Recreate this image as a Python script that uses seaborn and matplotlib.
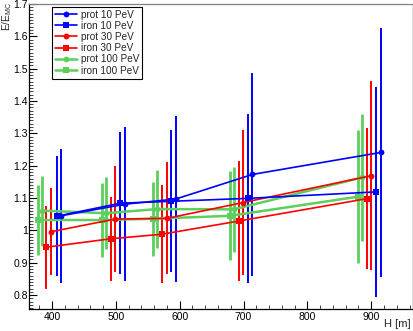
import numpy as np
import pandas as pd
import matplotlib
matplotlib.use("Agg")
import matplotlib.pyplot as plt
from matplotlib.ticker import MultipleLocator, FuncFormatter
import seaborn as sns

sns.set_theme(style="white")
plt.rcParams['font.family'] = ['Liberation Sans', 'DejaVu Sans']
plt.rcParams['mathtext.fontset'] = 'custom'
plt.rcParams['mathtext.rm'] = 'Liberation Sans'
plt.rcParams['mathtext.it'] = 'Liberation Sans'

series_names = ["prot 10 PeV", "iron 10 PeV", "prot 30 PeV", "iron 30 PeV", "prot 100 PeV", "iron 100 PeV"]

prot10_x = [414, 514, 594, 714, 915]
prot10_y = [1.045, 1.081, 1.097, 1.173, 1.241]
prot10_e = [0.207, 0.238, 0.256, 0.315, 0.385]

iron10_x = [408, 507, 587, 707, 908]
iron10_y = [1.044, 1.084, 1.090, 1.099, 1.119]
iron10_e = [0.186, 0.220, 0.219, 0.262, 0.325]

prot30_x = [399, 499, 580, 699, 900]
prot30_y = [0.996, 1.035, 1.037, 1.086, 1.169]
prot30_e = [0.135, 0.163, 0.173, 0.224, 0.292]

iron30_x = [391, 492, 572, 693, 893]
iron30_y = [0.948, 0.974, 0.988, 1.029, 1.098]
iron30_e = [0.128, 0.130, 0.152, 0.185, 0.218]

prot100_x = [385, 485, 565, 685, 886]
prot100_y = [1.061, 1.053, 1.066, 1.065, 1.164]
prot100_e = [0.108, 0.111, 0.120, 0.131, 0.196]

iron100_x = [378, 478, 558, 679, 879]
iron100_y = [1.032, 1.032, 1.036, 1.045, 1.104]
iron100_e = [0.107, 0.114, 0.115, 0.138, 0.205]

xs = [prot10_x, iron10_x, prot30_x, iron30_x, prot100_x, iron100_x]
ys = [prot10_y, iron10_y, prot30_y, iron30_y, prot100_y, iron100_y]
es = [prot10_e, iron10_e, prot30_e, iron30_e, prot100_e, iron100_e]
colors = ["#0000ff", "#0000ff", "#ff0000", "#ff0000", "#5ccf5c", "#5ccf5c"]
markers = ["o", "s", "o", "s", "o", "s"]
lws = [1.2, 1.2, 1.2, 1.2, 1.8, 1.8]

fig = plt.figure(figsize=(4.14, 3.31), dpi=100)
ax = fig.add_axes([0.0708, 0.0656, 0.9969 - 0.0708, 0.9879 - 0.0656])

order = [4, 5, 2, 3, 0, 1]
for i in order:
    df = pd.DataFrame({"H": xs[i], "E": ys[i]})
    ax.errorbar(xs[i], ys[i], yerr=es[i], fmt='none', ecolor=colors[i],
                elinewidth=lws[i] + 0.2, capsize=0, zorder=2)
    sns.lineplot(data=df, x="H", y="E", ax=ax, color=colors[i], marker=markers[i],
                 markersize=4.2 if markers[i] == 'o' else 4.0, markeredgewidth=0,
                 linewidth=lws[i], sort=False, label=series_names[i], zorder=3)

ax.set_xlim(364.5, 965)
ax.set_ylim(0.756, 1.70)
ax.set_xlabel("")
ax.set_ylabel("")

ax.xaxis.set_major_locator(MultipleLocator(100))
ax.xaxis.set_minor_locator(MultipleLocator(20))
ax.yaxis.set_major_locator(MultipleLocator(0.1))
ax.yaxis.set_minor_locator(MultipleLocator(0.01))
ax.yaxis.set_major_formatter(FuncFormatter(lambda v, p: "%g" % round(v, 2)))
ax.tick_params(axis='both', which='major', direction='in', length=6, width=0.8,
               labelsize=7.5, colors='black', pad=2,
               bottom=True, left=True, top=False, right=False)
ax.tick_params(axis='y', which='major', pad=1.2)
ax.tick_params(axis='both', which='minor', direction='in', length=3, width=0.6,
               bottom=True, left=True, top=False, right=False)

for s in ["left", "bottom", "right"]:
    ax.spines[s].set_color("black")
    ax.spines[s].set_linewidth(0.9)
ax.spines["top"].set_color("#808080")
ax.spines["top"].set_linewidth(0.9)

handles, labels = ax.get_legend_handles_labels()
hmap = dict(zip(labels, handles))
leg = ax.legend([hmap[l] for l in series_names], series_names,
                loc='upper left', bbox_to_anchor=(52 / 414, 1 - 6.5 / 331),
                bbox_transform=fig.transFigure,
                fontsize=7.2, frameon=True, fancybox=False, framealpha=1,
                edgecolor='black', borderpad=0.3, labelspacing=0.12,
                handlelength=2.2, handletextpad=0.4, borderaxespad=0)
leg.get_frame().set_linewidth(0.8)

fig.text(0.0, 1 - 2 / 331, r"E/E$_{\mathrm{MC}}$", rotation=90, ha='left', va='top',
         fontsize=7.3)
fig.text(411 / 414, 1 - 329 / 331, "H [m]", ha='right', va='bottom', fontsize=8)

fig.savefig("out.png", dpi=100, facecolor='white')
